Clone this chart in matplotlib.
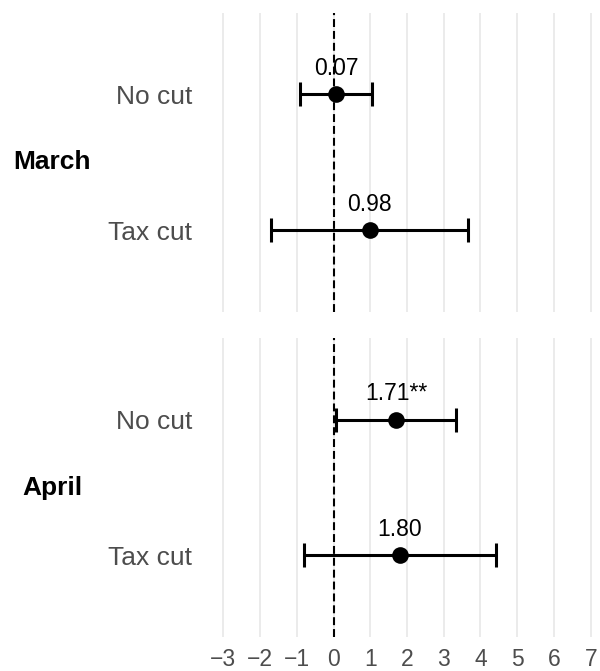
import numpy as np
import matplotlib
matplotlib.use("Agg")
import matplotlib.pyplot as plt

plt.rcParams['font.family'] = ['Liberation Sans', 'DejaVu Sans']

# estimates and confidence bounds
months = ['March', 'April']
groups = ['No cut', 'Tax cut']
march_est = [0.07, 0.98]
march_lo = [-0.91, -1.70]
march_hi = [1.05, 3.66]
april_est = [1.71, 1.80]
april_lo = [0.06, -0.80]
april_hi = [3.34, 4.41]
march_lab = ['0.07', '0.98']
april_lab = ['1.71**', '1.80']
xticks = list(range(-3, 8))

W, H = 600, 671
fig = plt.figure(figsize=(W / 100, H / 100), dpi=100)

# panel boxes in pixels: (left, top, right, bottom)
panels = [(218, 12.7, 596, 311.7), (218, 338, 596, 637)]
data = [(march_est, march_lo, march_hi, march_lab),
        (april_est, april_lo, april_hi, april_lab)]

for i, (month, box, (est, lo, hi, lab)) in enumerate(zip(months, panels, data)):
    l, t, r, b = box
    ax = fig.add_axes([l / W, 1 - b / H, (r - l) / W, (b - t) / H])
    ypos = np.arange(1, len(groups) + 1)
    est = np.array(est)
    err = [est - np.array(lo), np.array(hi) - est]

    ax.axvline(0, color='black', lw=1.5, linestyle=(0, (3.8, 1.9)), zorder=2)
    ax.errorbar(est, ypos, xerr=err, fmt='none', ecolor='black',
                elinewidth=2.2, capsize=8.6, capthick=2.2, zorder=3)
    ax.plot(est, ypos, 'o', color='black', ms=12, mew=0, zorder=4)
    for x, y, s in zip(est, ypos, lab):
        ax.annotate(s, (x, y), xytext=(0, 18.7), textcoords='offset points',
                    ha='center', va='center', fontsize=16.5, color='black')

    ax.set_xlim(-3.144, 7.144)
    ax.set_ylim(2.6, 0.4)
    ax.set_xticks(xticks)
    ax.set_yticks(ypos)
    ax.set_yticklabels(groups)
    ax.grid(axis='x', color='#EBEBEB', lw=1.4, zorder=0)
    ax.set_axisbelow(True)
    for sp in ax.spines.values():
        sp.set_visible(False)
    ax.tick_params(length=0, labelsize=19, labelcolor='#4D4D4D', pad=18.7)
    ax.tick_params(axis='x', labelsize=16.5, pad=8)
    if i == 0:
        ax.tick_params(axis='x', labelbottom=False)

    fig.text(52 / W, 1 - (t + b) / 2 / H, month, ha='center', va='center',
             fontsize=19, fontweight='bold', color='black')

fig.savefig('out.png', dpi=100)
